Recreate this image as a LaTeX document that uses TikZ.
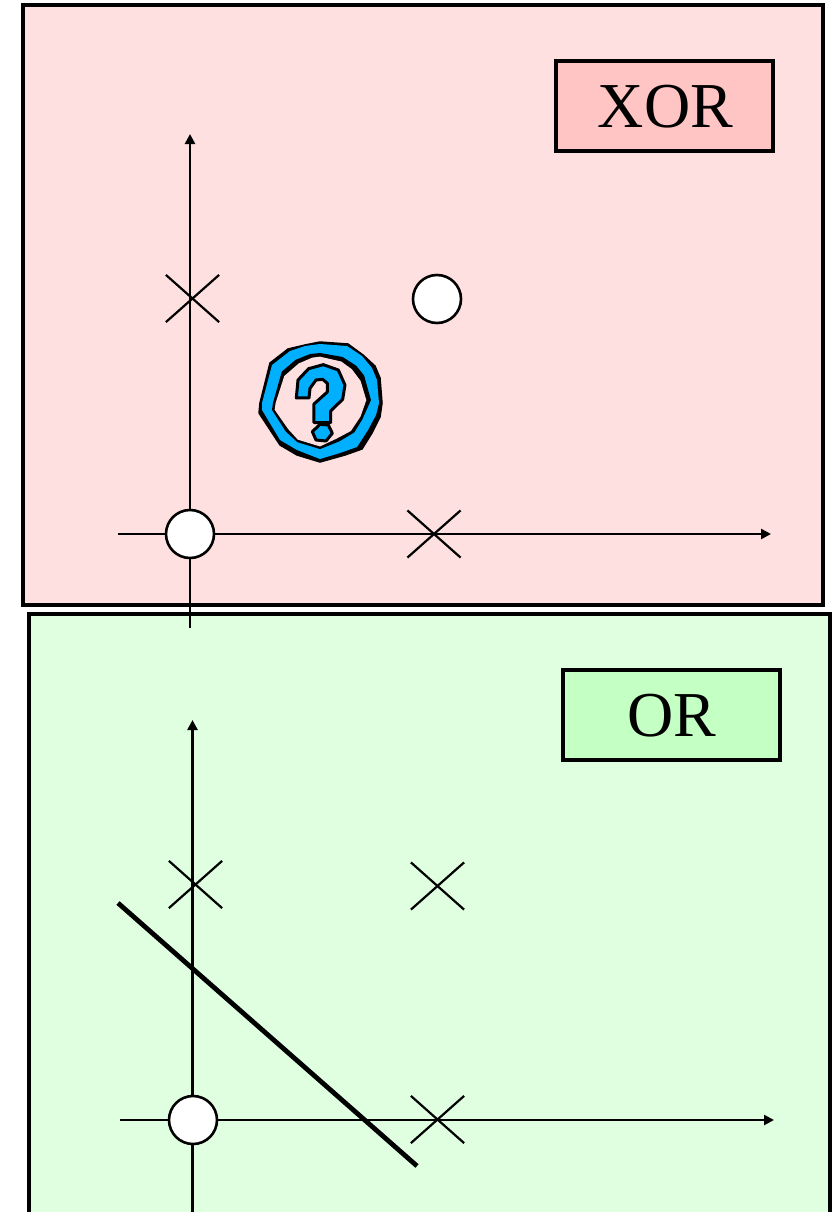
\documentclass[tikz,border=0pt]{standalone}
\usepackage{fontspec}
\setmainfont{Liberation Serif}
\usetikzlibrary{arrows.meta,shapes.misc}
\definecolor{panelred}{HTML}{FFE0E0}
\definecolor{panelgreen}{HTML}{E0FFE0}
\definecolor{tagred}{HTML}{FFC4C4}
\definecolor{taggreen}{HTML}{C4FFC4}
\definecolor{qcyan}{HTML}{00B0FF}
\tikzset{
  panel/.style={draw=black,line width=4.8pt,anchor=north west,inner sep=0pt,outer sep=0pt,minimum width=800pt},
  tagbox/.style={draw=black,line width=4.8pt,minimum width=217pt,minimum height=90pt,inner sep=0pt,outer sep=0pt},
  taglabel/.style={inner sep=0pt,font=\fontsize{64}{64}\selectfont},
  axis/.style={line width=2.6pt,-{Triangle[length=10pt,width=10pt]}},
  xmark/.style={cross out,draw=black,line width=2.2pt,minimum width=51pt,minimum height=45pt,inner sep=0pt},
  dot/.style={circle,draw=black,fill=white,line width=2.6pt,minimum size=48pt,inner sep=0pt},
  sep/.style={line width=4.8pt}
}
\begin{document}
\begin{tikzpicture}[x=1pt,y=-1pt]
\useasboundingbox (0,0) rectangle (832,1212);
\begin{scope}
\clip (0,0) rectangle (832,1212);
\node[panel,fill=panelred,minimum height=600pt] (xorpanel) at (23,5) {};
\node[panel,fill=panelgreen,minimum width=801pt,minimum height=640pt] (orpanel) at (29,614) {};
\node[tagbox,fill=tagred] (xortag) at (664.5,106) {};
\node[taglabel] (xortext) at (665.5,107) {XOR};
\node[tagbox,fill=taggreen] (ortag) at (671.5,715) {};
\node[taglabel] (ortext) at (671.5,716) {OR};
% XOR axes
\coordinate (xa1) at (190,628); \coordinate (xa2) at (190,134);
\coordinate (xb1) at (118,534); \coordinate (xb2) at (771,534);
\draw[axis] (xa1) -- (xa2);
\draw[axis] (xb1) -- (xb2);
\node[dot] (xc1) at (190,534) {};
\node[dot] (xc2) at (437,299) {};
\node[xmark] (xm1) at (192.5,298.5) {};
\node[xmark] (xm2) at (434,534) {};
% question mark
\draw[black,fill=black,line width=1.5pt,line join=round] (260,403)--(270,363)--(288,349)--(305,345)--(320,342)--(348,344)--(363,355)--(375,366)--(380,378)--(382,403)--(380,417)--(372,433)--(362,449)--(345,455)--(320,462)--(297,455)--(280,445)--(259,413)--cycle;
\fill[qcyan] (262,403)--(272,365)--(290,351)--(305,346)--(320,344)--(347,346)--(362,356)--(372,368)--(377,380)--(379,403)--(376,415)--(368,430)--(357,447)--(340,453)--(320,459)--(297,450)--(280,440)--(262,410)--cycle;
\begin{scope}[shift={(320,403)},scale=0.98,shift={(-320,-403)}]
\fill[black] (272,403)--(281,371)--(295,359)--(310,353)--(320,352)--(343,356)--(357,365)--(365,375)--(372,400)--(363,420)--(355,433)--(340,442)--(320,450)--(297,443)--(285,432)--(271,410)--cycle;
\end{scope}
\begin{scope}[shift={(320,403)},scale=0.965,shift={(-320,-403)}]
\fill[panelred] (274,403)--(283,375)--(298,362)--(312,356)--(320,355)--(342,360)--(353,368)--(362,380)--(368,400)--(362,417)--(352,432)--(337,440)--(320,448)--(297,441)--(287,430)--(273,410)--cycle;
\end{scope}
\begin{scope}[shift={(240,330)},x=0.3333pt,y=-0.3333pt]
\draw[black,fill=qcyan,line width=3pt,line join=round] (169,204)--(174,150)--(206,116)--(250,104)--(295,120)--(315,165)--(308,208)--(272,243)--(272,278)--(222,278)--(222,222)--(262,186)--(262,160)--(248,148)--(228,150)--(210,175)--(207,204)--cycle;
\draw[black,fill=qcyan,line width=3pt,line join=round] (217,305)--(240,283)--(265,285)--(277,310)--(258,333)--(228,330)--cycle;
\end{scope}
% OR axes
\coordinate (oa1) at (192.5,1230); \coordinate (oa2) at (192.5,720);
\coordinate (ob1) at (120,1120); \coordinate (ob2) at (774,1120);
\draw[axis] (oa1) -- (oa2);
\draw[axis] (ob1) -- (ob2);
\node[dot] (oc1) at (193,1120) {};
\node[xmark] (om1) at (195.5,884.5) {};
\node[xmark] (om2) at (437.5,886) {};
\node[xmark] (om3) at (437.5,1119.5) {};
\coordinate (s1) at (118,903); \coordinate (s2) at (417,1166);
\draw[sep] (s1) -- (s2);
\end{scope}
\end{tikzpicture}
\end{document}
